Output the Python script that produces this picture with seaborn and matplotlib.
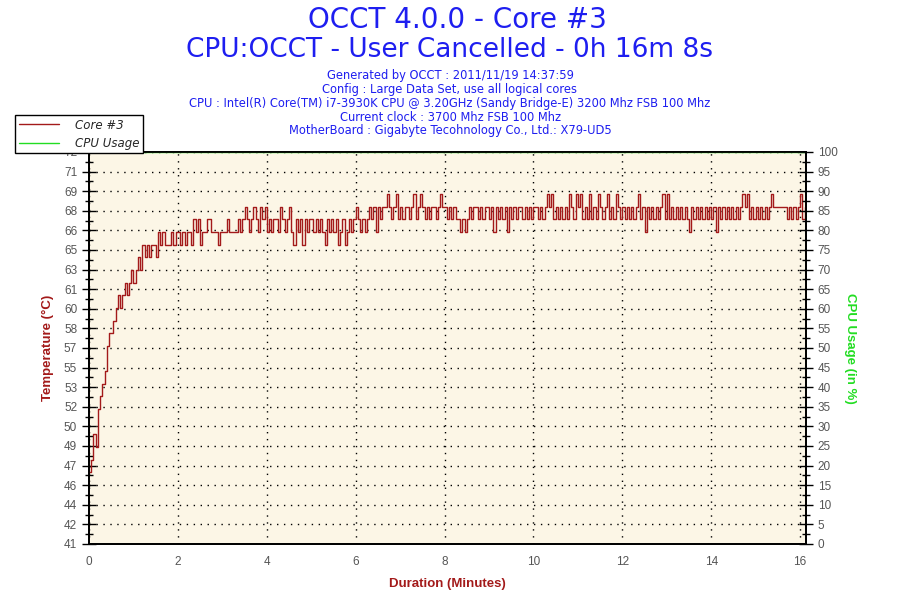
import numpy as np
import matplotlib
matplotlib.use('Agg')
import matplotlib.pyplot as plt
import seaborn as sns
from matplotlib.lines import Line2D
from matplotlib.ticker import MultipleLocator, FixedLocator

# Data (one sample every 3 s)
sample_step = 0.05  # minutes
temp_warmup = [47, 48, 50, 49, 52, 53, 54, 55, 57, 58, 58, 59, 60, 61, 60, 61, 62,
               61, 62, 63, 62, 63, 64, 63, 65, 64, 65, 64, 65, 65, 64, 66, 65]
temp_load = [66, 65, 65, 65, 66, 65, 66, 66, 65, 66, 65, 66, 66, 65,
             67, 66, 67, 65, 66, 66, 67, 67, 66, 66,
             66, 65, 66, 66, 66, 67, 66, 66, 66, 66,
             67, 66, 67, 68, 67, 66, 67, 68, 67, 66,
             68, 67, 68, 66, 67, 66, 67, 67, 66, 68,
             67, 66, 67, 68, 66, 65, 67, 66, 67, 65,
             67, 66, 67, 67, 66, 67, 66, 67, 66, 65,
             67, 66, 67, 66, 67, 65, 66, 67, 65, 66,
             67, 66, 67, 68, 67, 66, 67, 66, 67, 68,
             67, 68, 66, 68, 67, 68, 68, 69, 68, 67,
             68, 69, 67, 68, 67, 68, 68, 67, 68, 69,
             67, 68, 69, 68, 67, 68, 67, 68, 68, 67,
             68, 69, 68, 68, 67, 68, 67, 68, 67, 67,
             66, 67, 66, 67, 68, 67, 68, 68, 67, 68,
             67, 68, 68, 67, 68, 66, 68, 67, 68, 67,
             68, 66, 68, 67, 68, 67, 68, 68, 67, 68,
             67, 68, 67, 68, 68, 67, 68, 67, 68, 69,
             68, 69, 67, 68, 67, 68, 67, 68, 67, 69,
             68, 67, 69, 68, 69, 67, 68, 67, 69, 67,
             68, 67, 69, 68, 67, 68, 69, 67, 68, 67,
             69, 68, 67, 68, 67, 68, 67, 68, 67, 68,
             69, 67, 68, 66, 68, 67, 68, 67, 68, 67,
             68, 69, 67, 69, 67, 68, 67, 68, 67, 68,
             67, 68, 67, 66, 68, 67, 68, 67, 68, 67,
             68, 67, 68, 67, 68, 66, 68, 67, 68, 67,
             68, 67, 68, 67, 68, 67, 68, 69, 68, 69,
             67, 68, 67, 68, 67, 68, 67, 68, 67, 68,
             69, 68, 68, 68, 68, 68, 68, 67, 68, 67,
             68, 67, 68, 69, 67, 68]
cpu_minutes = [0, 16.1]
cpu_usage = [100, 100]

temp_tick_labels = ['41', '42', '44', '46', '47', '49', '50', '52', '53', '55', '57',
                    '58', '60', '61', '63', '65', '66', '68', '69', '71', '72']
info_lines = ['Generated by OCCT : 2011/11/19 14:37:59',
              'Config : Large Data Set, use all logical cores',
              'CPU : Intel(R) Core(TM) i7-3930K CPU @ 3.20GHz (Sandy Bridge-E) 3200 Mhz FSB 100 Mhz',
              'Current clock : 3700 Mhz FSB 100 Mhz',
              'MotherBoard : Gigabyte Tecohnology Co., Ltd.: X79-UD5']

core_temp = np.array(temp_warmup + temp_load)
minutes = np.arange(len(core_temp)) * sample_step

sns.set_style('white')
plt.rcParams['font.family'] = ['DejaVu Sans']
narrow = 'Liberation Sans'

RED = '#A31A1A'
GREEN = '#22DD22'
BLUE = '#1E1EF0'
GREY = '#555555'

fig = plt.figure(figsize=(9, 6), dpi=100)
ax = fig.add_axes([89 / 900, 56 / 600, 717 / 900, 392 / 600])
ax.set_facecolor('#FCF6E6')

sns.lineplot(x=minutes, y=core_temp, ax=ax, color=RED, lw=1,
             drawstyle='steps-post', estimator=None, zorder=3)

ymin, ymax = 41.33, 72.33
ax.set_ylim(ymin, ymax)
ax.set_xlim(0, 16.133)
yt = np.linspace(ymin, ymax, len(temp_tick_labels))
ax.yaxis.set_major_locator(FixedLocator(yt))
ax.set_yticklabels(temp_tick_labels)
ax.yaxis.set_minor_locator(FixedLocator((yt[:-1] + yt[1:]) / 2))
ax.xaxis.set_major_locator(MultipleLocator(2))
ax.xaxis.set_minor_locator(MultipleLocator(0.5))
ax.grid(True, which='major', color='black', linestyle=(0, (1, 4)), lw=1)

ax2 = ax.twinx()
sns.lineplot(x=cpu_minutes, y=cpu_usage, ax=ax2, color=GREEN, lw=1, zorder=1)
ax2.set_ylim(0, 100)
ax2.yaxis.set_major_locator(MultipleLocator(5))
ax2.yaxis.set_minor_locator(MultipleLocator(2.5))
ax2.grid(False)

for a in (ax, ax2):
    for s in a.spines.values():
        s.set_color('black')
        s.set_linewidth(1.3)
    a.tick_params(which='major', direction='inout', length=10, width=1,
                  color='black', labelcolor=GREY, labelsize=8.5)
    a.tick_params(which='minor', direction='inout', length=6, width=1, color='black')
    for lab in a.get_xticklabels() + a.get_yticklabels():
        lab.set_family(narrow)

ax.set_xlabel('Duration (Minutes)', color=RED, fontsize=9.5, fontweight='bold',
              family=narrow, labelpad=7)
ax.set_ylabel('Temperature (°C)', color=RED, fontsize=9.5, fontweight='bold',
              family=narrow, labelpad=7)
ax2.set_ylabel('CPU Usage (in %)', color=GREEN, fontsize=9.5, fontweight='bold',
               family=narrow, rotation=270, labelpad=13)

fig.text(0.508, 0.966, 'OCCT 4.0.0 - Core #3', ha='center', va='center',
         color=BLUE, fontsize=20)
fig.text(0.5, 0.916, 'CPU:OCCT - User Cancelled - 0h 16m 8s', ha='center',
         va='center', color=BLUE, fontsize=19)
for k, line in enumerate(info_lines):
    fig.text(0.5, 1 - (76 + 13.7 * k) / 600, line, ha='center', va='center',
             color=BLUE, fontsize=8.3)

handles = [Line2D([], [], color=RED, lw=1), Line2D([], [], color=GREEN, lw=1)]
leg = fig.legend(handles, ['Core #3', 'CPU Usage'], loc='upper left',
                 bbox_to_anchor=(15 / 900, 1 - 115 / 600), borderaxespad=0,
                 frameon=True, fancybox=False, edgecolor='black', framealpha=1,
                 prop={'style': 'italic', 'size': 8.5}, handlelength=3.4,
                 borderpad=0.3, labelspacing=0.45, handletextpad=1.4)
leg.get_frame().set_linewidth(1)

fig.savefig('out.png', dpi=100, facecolor='white')
